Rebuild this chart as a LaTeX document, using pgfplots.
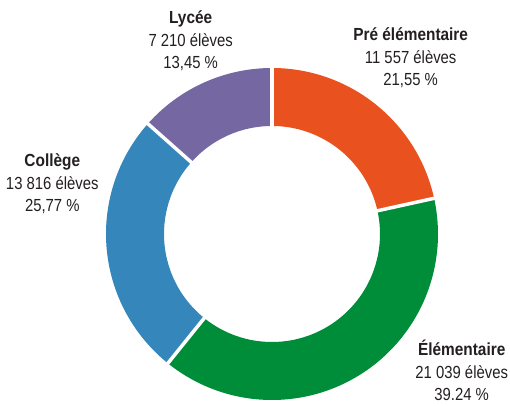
\documentclass[border=0pt]{standalone}
\usepackage{fontspec}
\setmainfont{Liberation Sans}[FakeStretch=0.85]
\newfontfamily\boldlab{Liberation Sans}[FakeStretch=0.88]
\usepackage{pgfplots}
\usepackage{pgfplotstable}
\pgfplotsset{compat=1.18}
\definecolor{cPre}{HTML}{E9521E}
\definecolor{cElem}{HTML}{008D39}
\definecolor{cCol}{HTML}{3586BB}
\definecolor{cLyc}{HTML}{7567A2}
\definecolor{txt}{HTML}{231F20}
\pgfplotstableread{
label value pct
Pre 11557 21.55
Elem 21039 39.24
College 13816 25.77
Lycee 7210 13.45
}\data
\pgfplotstablegetelem{0}{pct}\of\data \let\pA\pgfplotsretval
\pgfplotstablegetelem{1}{pct}\of\data \let\pB\pgfplotsretval
\pgfplotstablegetelem{2}{pct}\of\data \let\pC\pgfplotsretval
\pgfplotstablegetelem{3}{pct}\of\data \let\pD\pgfplotsretval
\pgfmathsetmacro\aA{90}
\pgfmathsetmacro\aB{\aA-3.6*\pA}
\pgfmathsetmacro\aC{\aB-3.6*\pB}
\pgfmathsetmacro\aD{\aC-3.6*\pC}
\pgfmathsetmacro\aE{\aD-3.6*\pD}
\newcommand{\lbl}[5]{%
  \node[anchor=base,text=txt,font=\boldlab\bfseries\fontsize{17.5bp}{20bp}\selectfont,inner sep=0pt] at (axis cs:#1,#2) {#3};
  \node[anchor=base,text=txt,font=\fontsize{17.5bp}{20bp}\selectfont,inner sep=0pt] at (axis cs:#1,#2-22.4) {#4};
  \node[anchor=base,text=txt,font=\fontsize{17.5bp}{20bp}\selectfont,inner sep=0pt] at (axis cs:#1,#2-44.8) {#5};
}
\begin{document}
\begin{tikzpicture}
\begin{axis}[hide axis, scale only axis, width=510bp, height=406bp,
  xmin=0, xmax=510, ymin=0, ymax=406, clip=false]
\addplot[cPre, line width=58bp, domain=\aB:\aA, samples=80] ({272+137*cos(x)},{172+137*sin(x)});
\addplot[cElem, line width=58bp, domain=\aC:\aB, samples=120] ({272+137*cos(x)},{172+137*sin(x)});
\addplot[cCol, line width=58bp, domain=\aD:\aC, samples=90] ({272+137*cos(x)},{172+137*sin(x)});
\addplot[cLyc, line width=58bp, domain=\aE:\aD, samples=60] ({272+137*cos(x)},{172+137*sin(x)});
\addplot[white, line width=3.5bp, domain=100:175, samples=2] ({272+x*cos(\aA)},{172+x*sin(\aA)});
\addplot[white, line width=3.5bp, domain=100:175, samples=2] ({272+x*cos(\aB)},{172+x*sin(\aB)});
\addplot[white, line width=3.5bp, domain=100:175, samples=2] ({272+x*cos(\aC)},{172+x*sin(\aC)});
\addplot[white, line width=3.5bp, domain=100:175, samples=2] ({272+x*cos(\aD)},{172+x*sin(\aD)});
\lbl{190.7}{382}{Lycée}{7 210 élèves}{13,45 \%}
\lbl{410.7}{365.3}{Pré élémentaire}{11 557 élèves}{21,55 \%}
\lbl{52.3}{239.3}{Collège}{13 816 élèves}{25,77 \%}
\lbl{461.7}{50}{Élémentaire}{21 039 élèves}{39.24 \%}
\end{axis}
\pgfresetboundingbox
\path (0,0) rectangle (510bp,406bp);
\end{tikzpicture}
\end{document}
